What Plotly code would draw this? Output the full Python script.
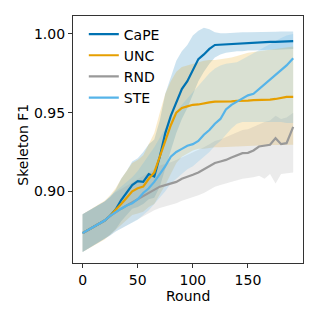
import plotly.graph_objects as go

rounds = [0, 5, 10, 15, 20, 25, 30, 35, 40, 45, 50, 55, 60, 65, 70, 75, 80, 85, 90, 95,
          100, 105, 110, 115, 120, 125, 130, 135, 140, 145, 150, 155, 160, 165, 170, 175,
          180, 185, 191]

cape_mean = [0.8735, 0.8755, 0.8775, 0.8795, 0.8815, 0.8845, 0.8885, 0.8945, 0.8990, 0.9040,
             0.9065, 0.9060, 0.9110, 0.9095, 0.9220, 0.9370, 0.9480, 0.9570, 0.9650, 0.9700,
             0.9770, 0.9840, 0.9870, 0.9905, 0.9930, 0.9932, 0.9935, 0.9940, 0.9940, 0.9942,
             0.9945, 0.9945, 0.9946, 0.9948, 0.9950, 0.9950, 0.9952, 0.9955, 0.9955]
cape_low = [0.8615, 0.8635, 0.8660, 0.8680, 0.8700, 0.8725, 0.8760, 0.8810, 0.8850, 0.8890,
            0.8900, 0.8920, 0.8950, 0.8960, 0.9030, 0.9150, 0.9260, 0.9370, 0.9460, 0.9530,
            0.9610, 0.9700, 0.9760, 0.9810, 0.9850, 0.9870, 0.9880, 0.9885, 0.9890, 0.9890,
            0.9895, 0.9895, 0.9898, 0.9900, 0.9900, 0.9900, 0.9902, 0.9905, 0.9905]
cape_high = [0.8855, 0.8875, 0.8890, 0.8910, 0.8935, 0.8965, 0.9010, 0.9080, 0.9130, 0.9190,
             0.9210, 0.9250, 0.9300, 0.9330, 0.9450, 0.9620, 0.9730, 0.9830, 0.9890, 0.9930,
             0.9990, 1.0020, 1.0040, 1.0030, 1.0010, 1.0005, 1.0005, 1.0008, 1.0008, 1.0010,
             1.0010, 1.0010, 1.0012, 1.0012, 1.0014, 1.0014, 1.0015, 1.0015, 1.0015]

unc_mean = [0.8735, 0.8755, 0.8775, 0.8795, 0.8815, 0.8845, 0.8880, 0.8920, 0.8960, 0.9000,
            0.9020, 0.9030, 0.9080, 0.9120, 0.9220, 0.9320, 0.9420, 0.9500, 0.9530, 0.9540,
            0.9550, 0.9552, 0.9560, 0.9565, 0.9570, 0.9570, 0.9570, 0.9572, 0.9575, 0.9575,
            0.9577, 0.9580, 0.9580, 0.9580, 0.9583, 0.9587, 0.9595, 0.9600, 0.9600]
unc_low = [0.8615, 0.8635, 0.8655, 0.8675, 0.8695, 0.8725, 0.8755, 0.8790, 0.8820, 0.8850,
           0.8860, 0.8870, 0.8900, 0.8920, 0.8980, 0.9040, 0.9110, 0.9180, 0.9220, 0.9240,
           0.9260, 0.9270, 0.9270, 0.9275, 0.9280, 0.9280, 0.9282, 0.9285, 0.9285, 0.9288,
           0.9290, 0.9290, 0.9292, 0.9292, 0.9295, 0.9295, 0.9296, 0.9296, 0.9296]
unc_high = [0.8855, 0.8875, 0.8895, 0.8915, 0.8940, 0.8975, 0.9020, 0.9080, 0.9130, 0.9180,
            0.9200, 0.9230, 0.9300, 0.9370, 0.9500, 0.9620, 0.9700, 0.9760, 0.9790, 0.9800,
            0.9810, 0.9820, 0.9830, 0.9835, 0.9835, 0.9840, 0.9845, 0.9850, 0.9860, 0.9870,
            0.9880, 0.9885, 0.9890, 0.9895, 0.9900, 0.9905, 0.9910, 0.9915, 0.9920]

rnd_mean = [0.8735, 0.8755, 0.8775, 0.8795, 0.8815, 0.8845, 0.8870, 0.8890, 0.8910, 0.8930,
            0.8950, 0.8970, 0.8990, 0.9010, 0.9030, 0.9040, 0.9050, 0.9060, 0.9080, 0.9090,
            0.9105, 0.9120, 0.9140, 0.9160, 0.9180, 0.9190, 0.9200, 0.9215, 0.9230, 0.9243,
            0.9245, 0.9260, 0.9285, 0.9290, 0.9296, 0.9338, 0.9300, 0.9306, 0.9410]
rnd_low = [0.8615, 0.8635, 0.8655, 0.8675, 0.8695, 0.8720, 0.8745, 0.8765, 0.8785, 0.8805,
           0.8825, 0.8845, 0.8860, 0.8880, 0.8895, 0.8905, 0.8915, 0.8925, 0.8940, 0.8950,
           0.8960, 0.8975, 0.8990, 0.9010, 0.9030, 0.9040, 0.9050, 0.9060, 0.9070, 0.9080,
           0.9085, 0.9090, 0.9100, 0.9080, 0.9110, 0.9050, 0.9110, 0.9115, 0.9120]
rnd_high = [0.8855, 0.8875, 0.8895, 0.8915, 0.8935, 0.8965, 0.8995, 0.9015, 0.9035, 0.9055,
            0.9075, 0.9095, 0.9120, 0.9140, 0.9165, 0.9175, 0.9185, 0.9200, 0.9215, 0.9230,
            0.9245, 0.9260, 0.9280, 0.9300, 0.9320, 0.9330, 0.9345, 0.9360, 0.9375, 0.9390,
            0.9395, 0.9410, 0.9430, 0.9440, 0.9450, 0.9480, 0.9460, 0.9470, 0.9500]

ste_mean = [0.8735, 0.8755, 0.8775, 0.8795, 0.8815, 0.8845, 0.8870, 0.8890, 0.8910, 0.8925,
            0.8950, 0.8990, 0.9020, 0.9060, 0.9110, 0.9160, 0.9220, 0.9250, 0.9270, 0.9290,
            0.9300, 0.9320, 0.9360, 0.9390, 0.9430, 0.9460, 0.9520, 0.9550, 0.9570, 0.9590,
            0.9610, 0.9620, 0.9650, 0.9680, 0.9710, 0.9740, 0.9770, 0.9800, 0.9846]
ste_low = [0.8615, 0.8635, 0.8655, 0.8675, 0.8695, 0.8720, 0.8745, 0.8765, 0.8785, 0.8800,
           0.8820, 0.8850, 0.8880, 0.8920, 0.8960, 0.9000, 0.9050, 0.9080, 0.9110, 0.9140,
           0.9160, 0.9190, 0.9220, 0.9250, 0.9290, 0.9320, 0.9360, 0.9400, 0.9430, 0.9440,
           0.9440, 0.9440, 0.9440, 0.9440, 0.9440, 0.9440, 0.9440, 0.9435, 0.9435]
ste_high = [0.8855, 0.8875, 0.8895, 0.8915, 0.8935, 0.8970, 0.9000, 0.9030, 0.9060, 0.9090,
            0.9130, 0.9180, 0.9230, 0.9280, 0.9340, 0.9400, 0.9460, 0.9510, 0.9550, 0.9590,
            0.9630, 0.9670, 0.9710, 0.9750, 0.9780, 0.9800, 0.9810, 0.9815, 0.9820, 0.9840,
            0.9860, 0.9880, 0.9900, 0.9920, 0.9940, 0.9960, 0.9975, 0.9990, 1.0000]

series = [
    ("CaPE", cape_mean, cape_low, cape_high, "#0072B2", "rgba(0,114,178,0.2)"),
    ("UNC", unc_mean, unc_low, unc_high, "#E69F00", "rgba(230,159,0,0.2)"),
    ("RND", rnd_mean, rnd_low, rnd_high, "#999999", "rgba(153,153,153,0.2)"),
    ("STE", ste_mean, ste_low, ste_high, "#56B4E9", "rgba(86,180,233,0.2)"),
]

fig = go.Figure()
for name, mean, low, high, color, fill in series:
    fig.add_trace(go.Scatter(x=rounds, y=high, mode="lines", line=dict(width=0),
                             legendgroup=name, showlegend=False, hoverinfo="skip"))
    fig.add_trace(go.Scatter(x=rounds, y=low, mode="lines", line=dict(width=0),
                             fill="tonexty", fillcolor=fill, legendgroup=name,
                             showlegend=False, hoverinfo="skip"))
for name, mean, low, high, color, fill in series:
    fig.add_trace(go.Scatter(x=rounds, y=mean, mode="lines", name=name, legendgroup=name,
                             line=dict(color=color, width=2.2)))

font = "DejaVu Sans"
axis_common = dict(ticks="outside", ticklen=4, tickcolor="#333", tickwidth=1.2,
                   showgrid=False, zeroline=False, showline=True, linecolor="#333",
                   linewidth=1.2, mirror=True, automargin=False,
                   tickfont=dict(family=font, size=14, color="black"))
fig.update_layout(
    template="none",
    width=319, height=319,
    margin=dict(l=73, r=16, t=16, b=56, autoexpand=False),
    paper_bgcolor="white", plot_bgcolor="white",
    font=dict(family=font, size=14, color="black"),
    showlegend=True,
    legend=dict(x=0.047, y=0.990, xanchor="left", yanchor="top", traceorder="normal",
                bgcolor="rgba(0,0,0,0)", font=dict(size=14), tracegroupgap=6),
    xaxis=dict(range=[-8.7, 199.9], tickvals=[0, 50, 100, 150], **axis_common),
    yaxis=dict(range=[0.8545, 1.0114], tickvals=[0.90, 0.95, 1.00],
               ticktext=["0.90", "0.95", "1.00"], **axis_common),
    annotations=[
        dict(text="Round", xref="paper", yref="paper", x=0.499, y=-0.134,
             xanchor="center", yanchor="middle", showarrow=False,
             font=dict(family=font, size=14, color="black")),
        dict(text="Skeleton F1", xref="paper", yref="paper", x=-0.2174, y=0.479,
             xanchor="center", yanchor="middle", textangle=-90, showarrow=False,
             font=dict(family=font, size=14, color="black")),
    ],
)
fig.write_html("out.html", config={"displayModeBar": False},
               post_script="document.body.style.margin='0px';")
